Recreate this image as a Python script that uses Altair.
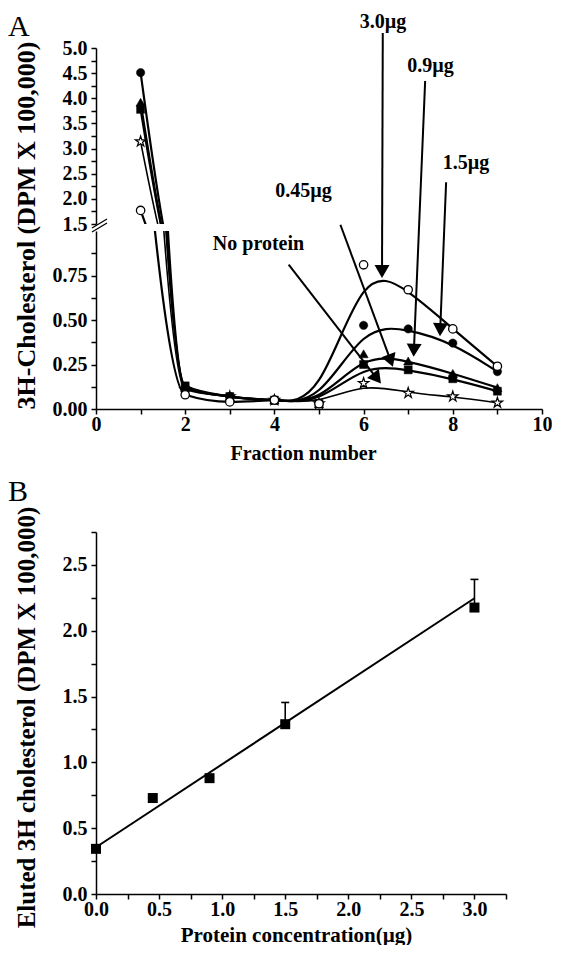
import altair as alt
import pandas as pd

FONT = "Liberation Serif"
INK = "black"

# ---------------- Panel A data ----------------
fractions = [1, 2, 3, 4, 5, 6, 7, 8, 9]
series_names = ["3.0µg", "1.5µg", "0.9µg", "0.45µg", "No protein"]
vals_3_0 = [1.77, 0.08, 0.04, 0.05, 0.03, 0.81, 0.67, 0.45, 0.24]
vals_1_5 = [4.51, 0.12, 0.07, 0.05, 0.03, 0.47, 0.45, 0.37, 0.21]
vals_0_9 = [3.92, 0.12, 0.07, 0.05, 0.03, 0.31, 0.27, 0.20, 0.12]
vals_0_45 = [3.78, 0.13, 0.07, 0.05, 0.03, 0.25, 0.22, 0.17, 0.10]
vals_none = [3.14, 0.11, 0.07, 0.05, 0.03, 0.145, 0.09, 0.07, 0.035]

# arrow annotations (data units of the lower panel A)
arrow_labels = ["3.0µg", "0.9µg", "1.5µg", "0.45µg", "No protein"]
label_x = [6.435, 7.50, 8.296, 4.652, 3.643]
label_y = [2.175, 1.925, 1.382, 1.222, 0.927]
arrow_start_x = [6.43, 7.38, 7.85, 5.48, 4.32]
arrow_start_y = [2.112, 1.843, 1.274, 1.035, 0.811]
arrow_head_x = [6.413, 7.13, 7.72, 6.59, 6.27]
arrow_head_y = [0.784, 0.342, 0.458, 0.283, 0.181]
arrow_angle = [180, 182.4, 182.4, 159.7, 142]

# ---------------- Panel B data ----------------
protein = [0.0, 0.45, 0.9, 1.5, 3.0]
eluted = [0.343, 0.729, 0.88, 1.29, 2.176]
err_protein = [1.5, 3.0]
err_mean = [1.29, 2.176]
err_top = [1.455, 2.39]
fit_x = [0.0, 3.0]
fit_y = [0.355, 2.247]

all_vals = [vals_3_0, vals_1_5, vals_0_9, vals_0_45, vals_none]
rows = []
for name, vals in zip(series_names, all_vals):
    for f, v in zip(fractions, vals):
        rows.append({"series": name, "fraction": f, "value": v})
dfA = pd.DataFrame(rows)

dfArrow = pd.DataFrame({
    "label": arrow_labels, "lx": label_x, "ly": label_y,
    "sx": arrow_start_x, "sy": arrow_start_y,
    "hx": arrow_head_x, "hy": arrow_head_y, "angle": arrow_angle,
})
dfB = pd.DataFrame({"protein": protein, "eluted": eluted})
dfErr = pd.DataFrame({"protein": err_protein, "mean": err_mean, "top": err_top})
dfFit = pd.DataFrame({"protein": fit_x, "eluted": fit_y})
one = pd.DataFrame({"k": [0]})

STAR = ("M0,-1L0.2245,-0.309L0.9511,-0.309L0.3633,0.118L0.5878,0.809"
        "L0,0.382L-0.5878,0.809L-0.3633,0.118L-0.9511,-0.309L-0.2245,-0.309Z")
marker_style = {
    "3.0µg": dict(shape="circle", fill="white", stroke=INK, size=70, strokeWidth=1.3),
    "1.5µg": dict(shape="circle", fill=INK, stroke=INK, size=70, strokeWidth=0.5),
    "0.9µg": dict(shape="triangle-up", fill=INK, stroke=INK, size=85, strokeWidth=0.5),
    "0.45µg": dict(shape="square", fill=INK, stroke=INK, size=64, strokeWidth=0.5),
    "No protein": dict(shape=STAR, fill="white", stroke=INK, size=120, strokeWidth=1.2),
}

W_A = 446
H_UP = 176
H_LO = 178
TICK_FS = 20


def label_expr(step, fmt):
    return (f"abs(datum.value/{step} - round(datum.value/{step})) < 0.001 ? "
            f"format(datum.value, '{fmt}') : ''")


up_axis = alt.Axis(values=[1.5 + 0.25 * i for i in range(15)],
                   labelExpr=label_expr(0.5, ".1f"), title=None)
lo_axis = alt.Axis(values=[0.125 * i for i in range(8)],
                   labelExpr=label_expr(0.25, ".2f"),
                   title="3H-Cholesterol (DPM X 100,000)", titleFontSize=26,
                   titleX=-62, titleY=-6, titleAngle=270, titleAlign="center",
                   titleBaseline="alphabetic")
xa_axis = alt.Axis(values=list(range(0, 11)),
                   labelExpr="datum.value % 2 == 0 ? format(datum.value, 'd') : ''",
                   title="Fraction number", titleX=207, titleY=50,
                   titleAlign="center", titleBaseline="alphabetic")

XS = alt.Scale(domain=[0, 10], nice=False, zero=False)


def a_panel(ydomain, y_axis, x_axis, height, extra=None):
    ys = alt.Scale(domain=ydomain, nice=False, zero=False)

    def X(f):
        return alt.X(f"{f}:Q", scale=XS, axis=x_axis)

    def Y(f):
        return alt.Y(f"{f}:Q", scale=ys, axis=y_axis)

    sw = alt.condition(alt.datum.series == "No protein", alt.value(1.6), alt.value(2.2))
    base = alt.Chart(dfA)
    decay = base.transform_filter(alt.datum.fraction <= 4).mark_line(
        interpolate="monotone", clip=True, color=INK).encode(
        x=X("fraction"), y=Y("value"), detail="series:N", strokeWidth=sw)
    tail = base.transform_filter(alt.datum.fraction >= 4).mark_line(
        interpolate="basis", clip=True, color=INK).encode(
        x=X("fraction"), y=Y("value"), detail="series:N", strokeWidth=sw)
    layers = [decay, tail]
    for name in ["No protein", "0.45µg", "0.9µg", "1.5µg", "3.0µg"]:
        st = marker_style[name]
        layers.append(
            base.transform_filter(alt.datum.series == name)
            .transform_filter((alt.datum.value >= ydomain[0]) & (alt.datum.value <= ydomain[1]))
            .mark_point(filled=True, opacity=1, **st)
            .encode(x=X("fraction"), y=Y("value"))
        )
    if extra:
        layers += extra(X, Y)
    return alt.layer(*layers).properties(width=W_A, height=height)


def upper_extra(X, Y):
    lab = alt.Chart(one).mark_text(text="A", font=FONT, fontSize=30, align="left",
                                   baseline="alphabetic", color=INK).encode(
        x=alt.value(-88), y=alt.value(-12))
    brk1 = alt.Chart(one).mark_rule(color=INK, strokeWidth=1.3).encode(
        x=alt.value(-4), x2=alt.value(11), y=alt.value(H_UP + 4), y2=alt.value(H_UP - 5))
    brk2 = alt.Chart(one).mark_rule(color=INK, strokeWidth=1.3).encode(
        x=alt.value(-4), x2=alt.value(11), y=alt.value(H_UP + 8), y2=alt.value(H_UP - 1))
    return [lab, brk1, brk2]


def lower_extra(X, Y):
    ar = alt.Chart(dfArrow)
    shafts = ar.mark_rule(color=INK, strokeWidth=2, clip=False).encode(
        x=X("sx"), y=Y("sy"), x2="hx:Q", y2="hy:Q")
    heads = ar.mark_point(shape="triangle", filled=True, color=INK, size=225,
                          opacity=1, clip=False).encode(
        x=X("hx"), y=Y("hy"), angle=alt.Angle("angle:Q", scale=None))
    labels = ar.mark_text(font=FONT, fontSize=20, fontWeight="bold", color=INK,
                          align="center", baseline="middle", clip=False).encode(
        x=X("lx"), y=Y("ly"), text="label:N")
    return [shafts, heads, labels]


upper = a_panel([1.5, 5.0], up_axis, None, H_UP, upper_extra)
lower = a_panel([0.0, 1.0], lo_axis, xa_axis, H_LO, lower_extra)

spacer = alt.Chart(one).mark_point(opacity=0).encode(
    x=alt.X("k:Q", axis=None), y=alt.Y("k:Q", axis=None)).properties(width=10, height=109)

# ---------------- Panel B ----------------
W_B = 410
H_B = 362
xbs = alt.Scale(domain=[0, 3.25], nice=False, zero=False)
ybs = alt.Scale(domain=[0, 2.75], nice=False, zero=False)
xb_axis = alt.Axis(values=[0.25 * i for i in range(14)],
                   labelExpr=label_expr(0.5, ".1f"),
                   title="Protein concentration(µg)", titleX=200, titleY=47,
                   titleFontSize=21, titleAlign="center", titleBaseline="alphabetic")
yb_axis = alt.Axis(values=[0.25 * i for i in range(12)],
                   labelExpr=label_expr(0.5, ".1f"),
                   title="Eluted 3H cholesterol (DPM X 100,000)", titleFontSize=25,
                   titleX=-62, titleY=H_B / 2 + 4, titleAngle=270, titleAlign="center",
                   titleBaseline="alphabetic")


def XB(f):
    return alt.X(f"{f}:Q", scale=xbs, axis=xb_axis)


def YB(f):
    return alt.Y(f"{f}:Q", scale=ybs, axis=yb_axis)


fit = alt.Chart(dfFit).mark_line(color=INK, strokeWidth=2).encode(x=XB("protein"), y=YB("eluted"))
err = alt.Chart(dfErr).mark_rule(color=INK, strokeWidth=1.6).encode(
    x=XB("protein"), y=YB("mean"), y2="top:Q")
cap = alt.Chart(dfErr).mark_point(shape="stroke", size=64, color=INK, strokeWidth=1.6,
                                  opacity=1).encode(x=XB("protein"), y=YB("top"))
pts = alt.Chart(dfB).mark_point(shape="square", filled=True, color=INK, size=100,
                                opacity=1).encode(x=XB("protein"), y=YB("eluted"))
blab = alt.Chart(one).mark_text(text="B", font=FONT, fontSize=30, align="left",
                                baseline="alphabetic", color=INK).encode(
    x=alt.value(-88), y=alt.value(-31))
panelB = alt.layer(fit, err, cap, pts, blab).properties(width=W_B, height=H_B)

chart = alt.vconcat(upper, lower, spacer, panelB, spacing=7, bounds="flush").properties(
    padding={"top": 3, "left": 0, "right": 0, "bottom": 0}
).configure_view(stroke=None).configure_axis(
    domainColor=INK, tickColor=INK, labelColor=INK, titleColor=INK,
    labelFont=FONT, titleFont=FONT, labelFontWeight="bold", titleFontWeight="bold",
    labelFontSize=TICK_FS, titleFontSize=20, tickSize=5, tickWidth=1.5, domainWidth=1.5,
    grid=False, labelFlush=False, labelOverlap=False,
).configure_axisX(labelPadding=0).configure_axisY(labelPadding=4)

chart.save("out.html", embed_options={"renderer": "svg", "actions": False})
